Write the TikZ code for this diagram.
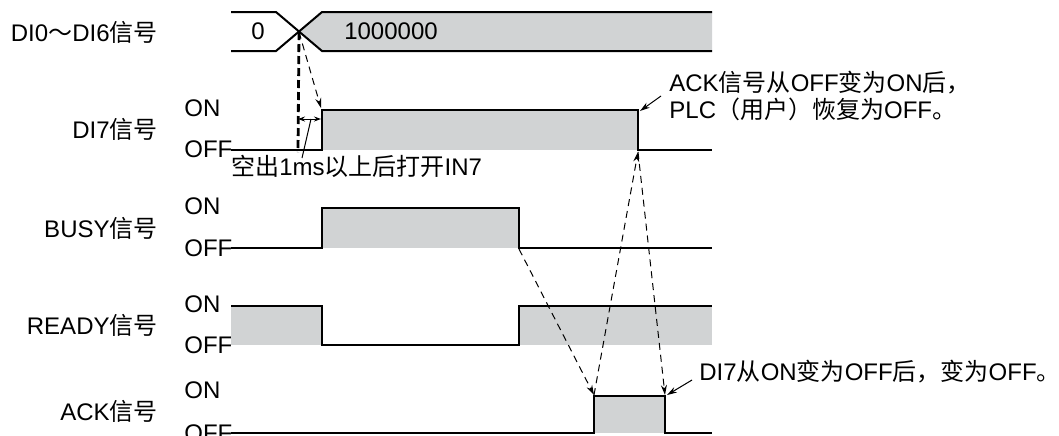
\documentclass[tikz,border=0pt]{standalone}
\usepackage{fontspec}
\setmainfont{Liberation Sans}
\newfontfamily\cjk{Noto Sans CJK SC}
\newcommand{\zh}[1]{{\cjk #1}}
\usetikzlibrary{arrows.meta}
\definecolor{wavegray}{RGB}{209,211,212}

\begin{document}
\begin{tikzpicture}[
    x=0.5pt, y=-0.5pt, font=\fontsize{12}{13.5}\selectfont,
    wave/.style={line width=1pt, line join=miter},
    siglabel/.style={anchor=east, inner sep=0pt},
    lvllabel/.style={anchor=west, inner sep=0pt},
    note/.style={anchor=west, inner sep=0pt, align=left},
    cause/.style={line width=0.5pt, dash pattern=on 3.5pt off 2.5pt, -{Stealth[length=5pt, width=3pt]}},
    pointer/.style={line width=0.5pt, -{Stealth[length=5pt, width=3pt]}}
]
    \useasboundingbox (0,0) rectangle (1059,435);

    % signal names
    \node[siglabel] (name-bus)   at (158,32)  {DI0\zh{～}DI6\zh{信号}};
    \node[siglabel] (name-di7)   at (158,129) {DI7\zh{信号}};
    \node[siglabel] (name-busy)  at (158,228) {BUSY\zh{信号}};
    \node[siglabel] (name-ready) at (158,325) {READY\zh{信号}};
    \node[siglabel] (name-ack)   at (158,411) {ACK\zh{信号}};

    % levels
    \foreach \on/\off [count=\i] in {108/149, 206/248, 304/345, 390/433} {
        \node[lvllabel] (on-\i)  at (184,\on)  {ON};
        \node[lvllabel] (off-\i) at (184,\off) {OFF};
    }

    % DI0-DI6 bus
    \fill[wavegray] (299,31.5) -- (322,12) -- (712,12) -- (712,51) -- (322,51) -- cycle;
    \draw[wave] (231,12) -- (276,12) -- (322,51) -- (712,51);
    \draw[wave] (231,51) -- (276,51) -- (322,12) -- (712,12);
    \node (val-old) at (258,31) {0};
    \node (val-new) at (391,31) {1000000};

    % DI7
    \fill[wavegray] (322,110) rectangle (638,150);
    \draw[wave] (231,150) -- (322,150) -- (322,110) -- (638,110) -- (638,150) -- (712,150);

    % BUSY
    \fill[wavegray] (322,208) rectangle (519,248);
    \draw[wave] (231,248) -- (322,248) -- (322,208) -- (519,208) -- (519,248) -- (712,248);

    % READY
    \fill[wavegray] (231,306) rectangle (322,345);
    \fill[wavegray] (519,306) rectangle (712,345);
    \draw[wave] (231,306) -- (322,306) -- (322,345) -- (519,345) -- (519,306) -- (712,306);

    % ACK
    \fill[wavegray] (594,396) rectangle (665,433);
    \draw[wave] (231,433) -- (594,433) -- (594,396) -- (665,396) -- (665,433) -- (712,433);

    % edges
    \coordinate (cross)    at (299,32);
    \coordinate (gap-base) at (298,152);
    \coordinate (gap-l)    at (298,119);
    \coordinate (gap-r)    at (321,119);
    \coordinate (gap-tip)  at (311,119);
    \coordinate (gap-foot) at (302,158);
    \coordinate (di7-up)   at (321,108);
    \coordinate (di7-dn)   at (640,111);
    \coordinate (di7-low)  at (638,152);
    \coordinate (busy-dn)  at (519,249);
    \coordinate (ack-up)   at (594,395);
    \coordinate (ack-dn)   at (665,395);
    \coordinate (ack-tip)  at (667,395);

    \draw[line width=1.4pt, dash pattern=on 4pt off 2pt] (cross) -- (gap-base);
    \draw[line width=0.5pt, {Stealth[length=3.5pt, width=2.5pt]}-{Stealth[length=3.5pt, width=2.5pt]}] (gap-l) -- (gap-r);
    \draw[line width=0.5pt] (gap-foot) -- (gap-tip);

    \path
        (cross)   edge[cause] (di7-up)
        (busy-dn) edge[cause] (ack-up)
        (ack-up)  edge[cause] (di7-low)
        (di7-low) edge[cause] (ack-dn);

    % notes
    \node[note] (note-gap) at (231,166) {\zh{空出}1ms\zh{以上后打开}IN7};
    \node[note] (note-plc) at (669,96)  {ACK\zh{信号从}OFF\zh{变为}ON\zh{后，}\\PLC\zh{（用户）恢复为}OFF\zh{。}};
    \node[note] (note-ack) at (699,372) {DI7\zh{从}ON\zh{变为}OFF\zh{后，变为}OFF\zh{。}};

    \draw[pointer] (661,96) -- (di7-dn);
    \draw[pointer] (692,380) -- (ack-tip);
\end{tikzpicture}
\end{document}
